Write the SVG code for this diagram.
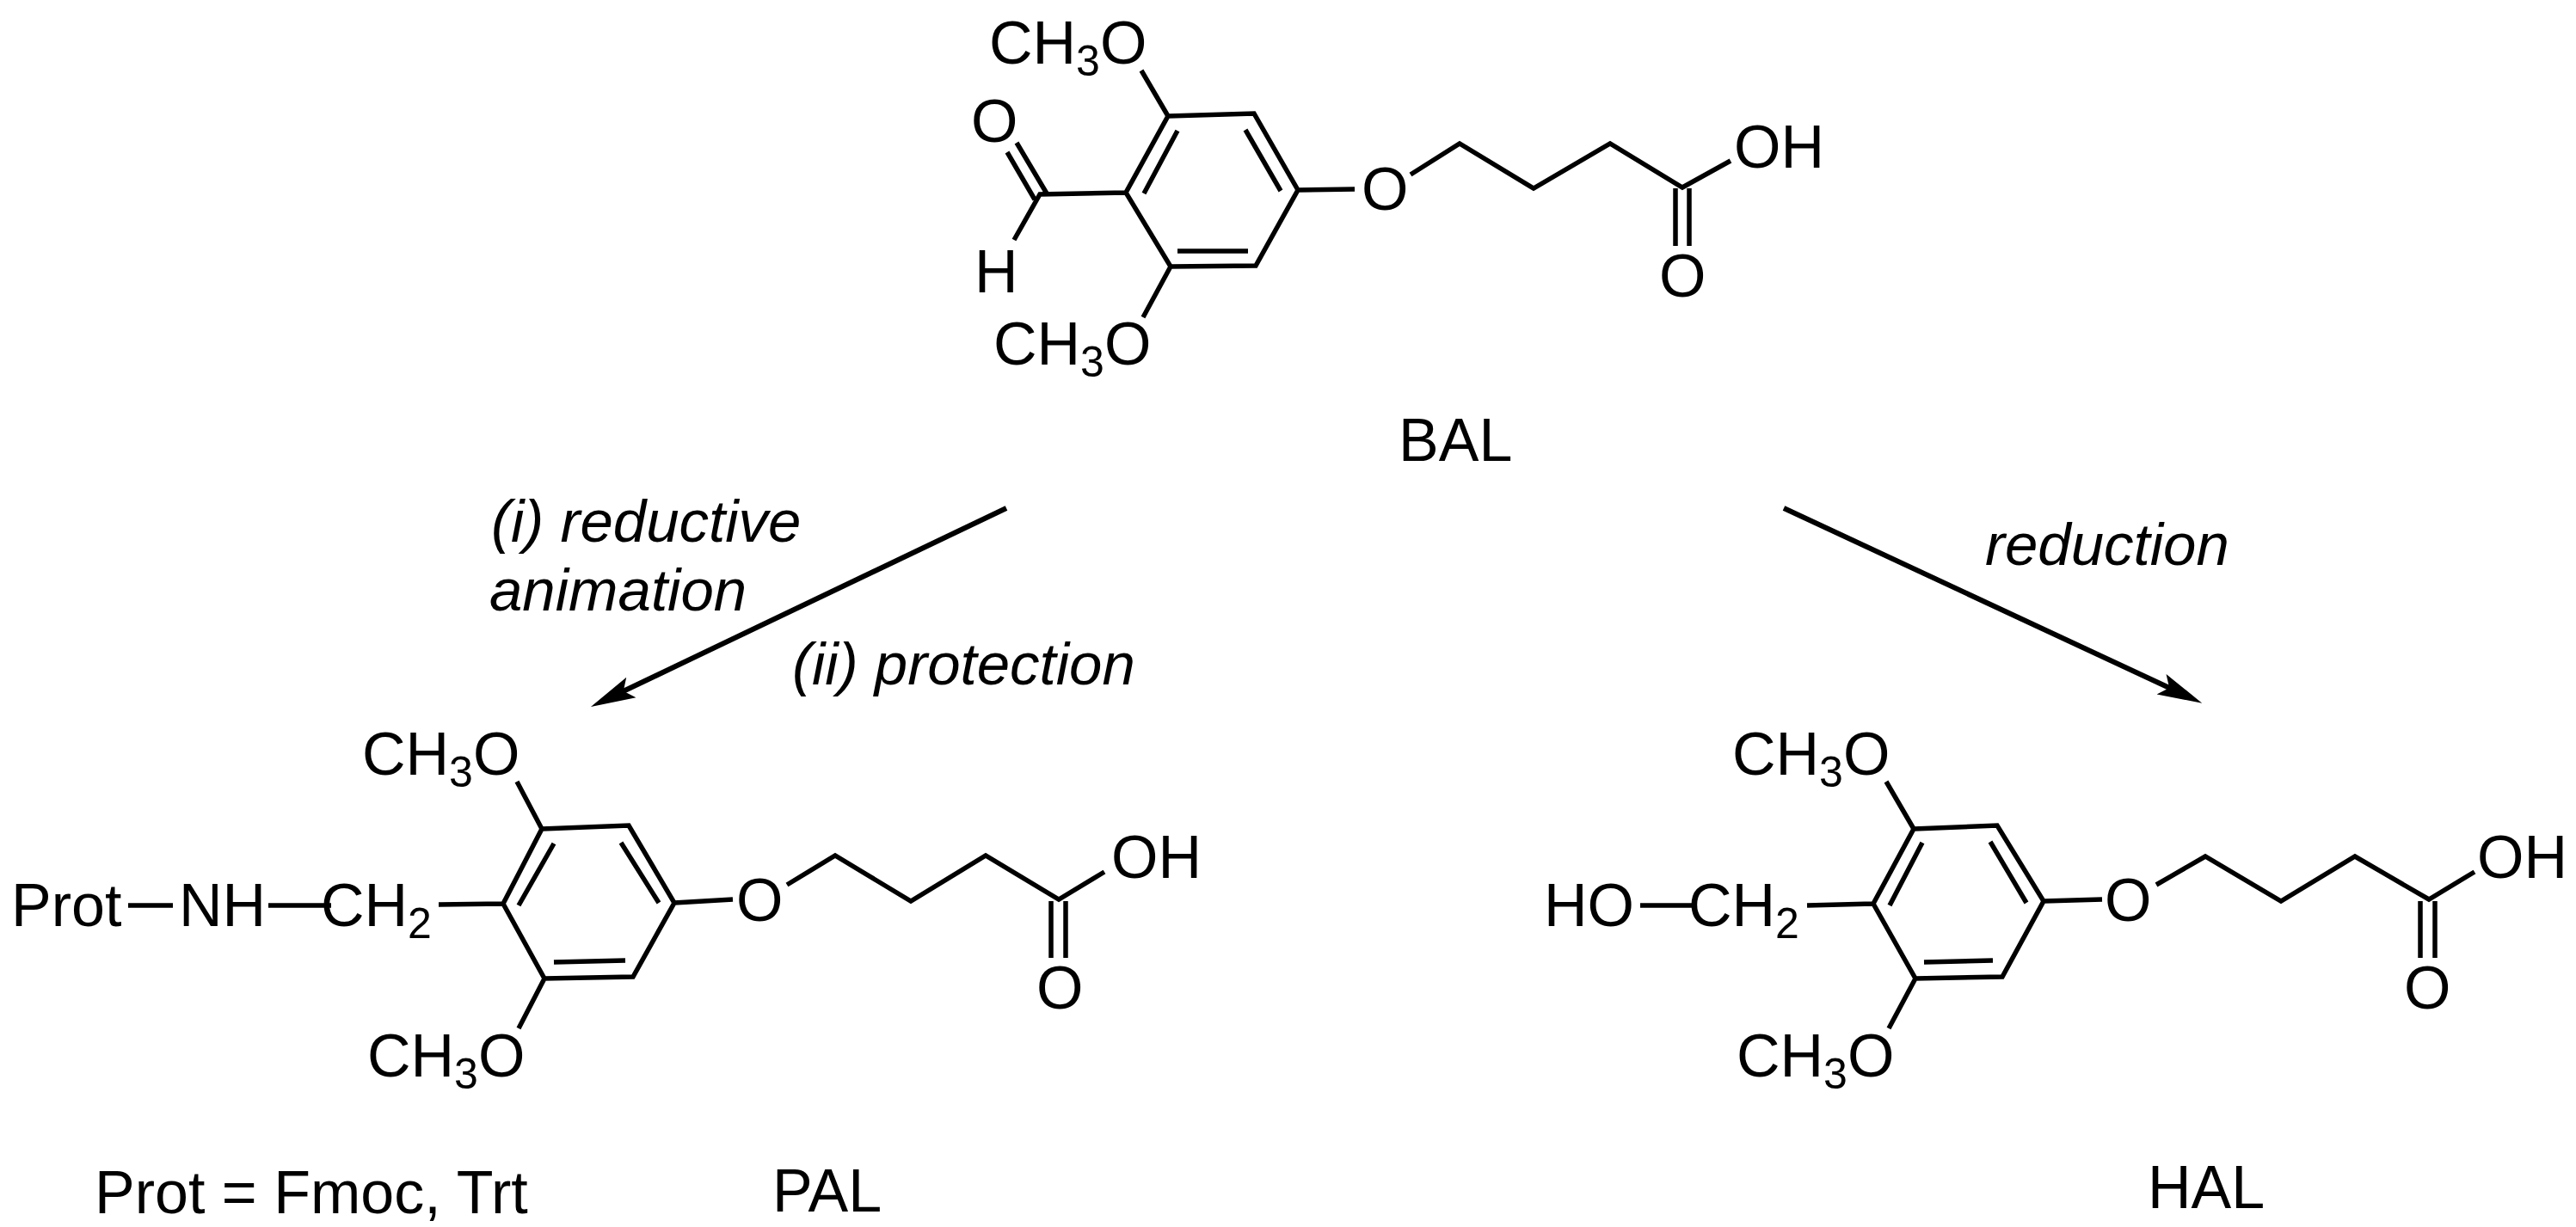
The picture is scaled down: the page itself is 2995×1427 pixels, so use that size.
<svg xmlns="http://www.w3.org/2000/svg" width="2995" height="1427" viewBox="0 0 2995 1427">
<style>
text{font-family:"Liberation Sans",Arial,sans-serif;font-size:70px;fill:#000}
text.it{font-style:italic;font-size:69px}
.sub{font-size:50px}
.b{fill:none;stroke:#000;stroke-width:5.5;stroke-linejoin:miter;stroke-linecap:butt}
.arrow{fill:none;stroke:#000;stroke-width:6}
</style>
<defs>
<marker id="head" markerUnits="userSpaceOnUse" markerWidth="52" markerHeight="30" refX="22" refY="15" orient="auto">
<path d="M0,2 L52,15 L0,28 L10,15z" fill="#000"/>
</marker>
</defs>
<rect width="2995" height="1427" fill="#fff"/>
<g id="BAL">
<path class="b" d="M1358,135 L1458,132 L1509,221 L1460,309 L1361,310 L1309,224Z M1327,82 L1358,135 M1361,310 L1329,369 M1369,152 L1330,225 M1448,151 L1489,222 M1369,292 L1451,292 M1309,224 L1209,226 L1179,279 M1182,166 L1217,225 M1171,177 L1203,232 M1509,221 L1575,220 M1640,203 L1697,167 L1783,219 L1872,167 L1956,218 L2012,187 M1948,219 V286 M1964,219 V286"/>
<text x="1150" y="74">CH<tspan class="sub" dy="14">3</tspan><tspan dy="-14">O</tspan></text>
<text x="1155" y="424">CH<tspan class="sub" dy="14">3</tspan><tspan dy="-14">O</tspan></text>
<text x="1129" y="165">O</text>
<text x="1133" y="340">H</text>
<text x="1583" y="244">O</text>
<text x="2016" y="195">OH</text>
<text x="1929" y="345">O</text>
<text x="1626" y="536">BAL</text>
</g>
<g id="PAL">
<path class="b" d="M630,964 L731,960 L784,1050 L736,1136 L633,1138 L585,1051Z M601,909 L630,964 M633,1138 L603,1196 M644,981 L603,1053 M722,980 L766,1050 M644,1119 L727,1117 M585,1051 L510,1052 M149,1053 H201 M312,1053 H385 M784,1050 L852,1046 M915,1029 L971,995 L1059,1048 L1146,995 L1231,1046 L1284,1014 M1222,1048 V1114 M1239,1048 V1114"/>
<text x="13" y="1077">Prot</text>
<text x="208" y="1077">NH</text>
<text x="373" y="1077">CH<tspan class="sub" dy="14">2</tspan></text>
<text x="421" y="901">CH<tspan class="sub" dy="14">3</tspan><tspan dy="-14">O</tspan></text>
<text x="427" y="1252">CH<tspan class="sub" dy="14">3</tspan><tspan dy="-14">O</tspan></text>
<text x="856" y="1071">O</text>
<text x="1292" y="1021">OH</text>
<text x="1205" y="1173">O</text>
<text x="110" y="1411">Prot = Fmoc, Trt</text>
<text x="898" y="1409">PAL</text>
</g>
<g id="HAL">
<path class="b" d="M2225,964 L2322,960 L2376,1048 L2328,1136 L2227,1138 L2178,1051Z M2193,909 L2225,964 M2227,1138 L2196,1196 M2235,980 L2197,1053 M2314,979 L2356,1050 M2237,1119 L2317,1117 M2178,1051 L2101,1053 M1907,1053 H1970 M2376,1048 L2444,1046 M2507,1029 L2564,996 L2652,1048 L2738,996 L2824,1046 L2877,1014 M2814,1048 V1114 M2831,1048 V1114"/>
<text x="1795" y="1077">HO</text>
<text x="1963" y="1077">CH<tspan class="sub" dy="14">2</tspan></text>
<text x="2014" y="901">CH<tspan class="sub" dy="14">3</tspan><tspan dy="-14">O</tspan></text>
<text x="2019" y="1252">CH<tspan class="sub" dy="14">3</tspan><tspan dy="-14">O</tspan></text>
<text x="2447" y="1071">O</text>
<text x="2880" y="1021">OH</text>
<text x="2795" y="1173">O</text>
<text x="2497" y="1405">HAL</text>
</g>
<g id="labels">
<text class="it" x="571" y="630">(i) reductive</text>
<text class="it" x="569" y="710">animation</text>
<text class="it" x="921" y="796">(ii) protection</text>
<text class="it" x="2308" y="657">reduction</text>
</g>
<g id="connectors">
<line class="arrow" x1="1170" y1="591" x2="714" y2="809" marker-end="url(#head)"/>
<line class="arrow" x1="2074" y1="591" x2="2533" y2="805" marker-end="url(#head)"/>
</g>
</svg>
